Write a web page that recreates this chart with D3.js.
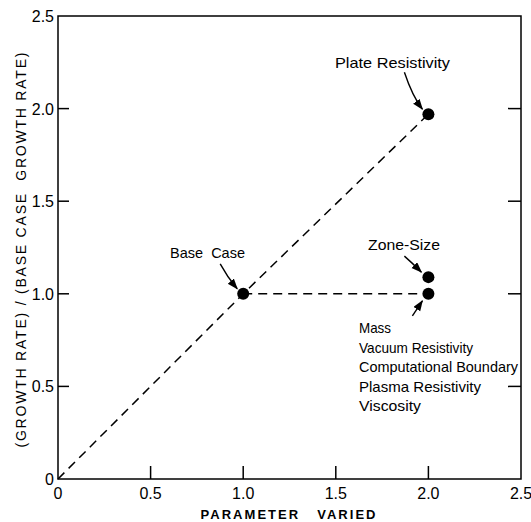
<!DOCTYPE html>
<html>
<head>
<meta charset="utf-8">
<script src="https://cdn.jsdelivr.net/npm/d3@7"></script>
<style>
  body { margin: 0; background: #fff; }
  text { font-family: "Liberation Sans", Arial, sans-serif; fill: #000; white-space: pre; }
</style>
</head>
<body>
<div id="chart"></div>
<script>
// values
const xTicks = [0, 0.5, 1.0, 1.5, 2.0, 2.5];
const yTicks = [0, 0.5, 1.0, 1.5, 2.0, 2.5];
const tickLabels = ["0", "0.5", "1.0", "1.5", "2.0", "2.5"];

const mainLine = [[0, 0], [1.0, 1.0], [2.0, 1.97]];
const flatLine = [[1.0, 1.0], [2.0, 1.0]];

const points = [
  { name: "Base Case", x: 1.0, y: 1.0 },
  { name: "Plate Resistivity", x: 2.0, y: 1.97 },
  { name: "Zone-Size", x: 2.0, y: 1.09 },
  { name: "Mass", x: 2.0, y: 1.0 }
];

const groupLabels = ["Mass", "Vacuum Resistivity", "Computational Boundary", "Plasma Resistivity", "Viscosity"];

const width = 531, height = 522;
const margin = { top: 16, right: 10, bottom: 43, left: 58 };

const svg = d3.select("#chart")
  .append("svg")
  .attr("width", width)
  .attr("height", height);

const x = d3.scaleLinear().domain([0, 2.5]).range([margin.left, width - margin.right]);
const y = d3.scaleLinear().domain([0, 2.5]).range([height - margin.bottom, margin.top]);

// frame
svg.append("rect")
  .attr("x", x(0))
  .attr("y", y(2.5))
  .attr("width", x(2.5) - x(0))
  .attr("height", y(0) - y(2.5))
  .attr("fill", "none")
  .attr("stroke", "#000")
  .attr("stroke-width", 1.5);

// inward ticks
const tickG = svg.append("g").attr("stroke", "#000").attr("stroke-width", 1.5);
tickG.selectAll(".xt")
  .data(xTicks.slice(1, -1))
  .join("line")
  .attr("x1", (d) => x(d)).attr("x2", (d) => x(d))
  .attr("y1", y(0)).attr("y2", y(0) - 13);
tickG.selectAll(".yl")
  .data(yTicks.slice(1, -1))
  .join("line")
  .attr("x1", x(0)).attr("x2", x(0) + 11)
  .attr("y1", (d) => y(d)).attr("y2", (d) => y(d));
tickG.selectAll(".yr")
  .data(yTicks.slice(1, -1))
  .join("line")
  .attr("x1", x(2.5)).attr("x2", x(2.5) - 13)
  .attr("y1", (d) => y(d)).attr("y2", (d) => y(d));

// tick labels
svg.append("g")
  .selectAll("text")
  .data(xTicks)
  .join("text")
  .attr("x", (d) => x(d))
  .attr("y", y(0) + 20)
  .attr("text-anchor", "middle")
  .style("font-size", "16px")
  .text((d, i) => tickLabels[i]);

svg.append("g")
  .selectAll("text")
  .data(yTicks)
  .join("text")
  .attr("x", x(0) - 4)
  .attr("y", (d) => y(d) + 6)
  .attr("text-anchor", "end")
  .style("font-size", "16px")
  .text((d, i) => tickLabels[i]);

// axis titles
svg.append("text")
  .attr("x", 288)
  .attr("y", 519)
  .attr("text-anchor", "middle")
  .attr("textLength", 175)
  .style("font-size", "13px")
  .style("font-weight", "bold")
  .text("PARAMETER   VARIED");

svg.append("text")
  .attr("transform", "translate(26,250) rotate(-90)")
  .attr("text-anchor", "middle")
  .attr("textLength", 395)
  .style("font-size", "14px")
  .text("(GROWTH RATE) / (BASE CASE  GROWTH RATE)");

// dashed lines
const line = d3.line().x((d) => x(d[0])).y((d) => y(d[1]));
svg.append("g")
  .attr("fill", "none")
  .attr("stroke", "#000")
  .attr("stroke-width", 1.5)
  .attr("stroke-dasharray", "9,6")
  .selectAll("path")
  .data([mainLine, flatLine])
  .join("path")
  .attr("d", line);

// markers
svg.append("g")
  .selectAll("circle")
  .data(points)
  .join("circle")
  .attr("cx", (d) => x(d.x))
  .attr("cy", (d) => y(d.y))
  .attr("r", 6)
  .attr("fill", "#000");

// arrowheads
svg.append("defs")
  .append("marker")
  .attr("id", "arrow")
  .attr("markerUnits", "userSpaceOnUse")
  .attr("markerWidth", 14)
  .attr("markerHeight", 14)
  .attr("refX", 10)
  .attr("refY", 4)
  .attr("orient", "auto")
  .append("polygon")
  .attr("points", "0 0, 11 4, 0 8")
  .attr("fill", "#000");

// arrow paths relative to each marker: [start dx, start dy, control dx, control dy, end dx, end dy]
const arrows = [
  { p: points[1], c: [-24, -42, -16, -18, -6, -5] },
  { p: points[0], c: [-23, -30, -16, -17, -6, -5] },
  { p: points[2], c: [-24, -21, -16, -14, -7, -5] },
  { p: points[3], c: [-16, 22, -12, 16, -6, 7] }
];

svg.append("g")
  .attr("fill", "none")
  .attr("stroke", "#000")
  .attr("stroke-width", 1.4)
  .selectAll("path")
  .data(arrows)
  .join("path")
  .attr("d", (d) => {
    const cx = x(d.p.x), cy = y(d.p.y), c = d.c;
    return `M${cx + c[0]},${cy + c[1]} Q${cx + c[2]},${cy + c[3]} ${cx + c[4]},${cy + c[5]}`;
  })
  .attr("marker-end", "url(#arrow)");

// annotations
const annot = svg.append("g").style("font-size", "15px");
annot.append("text").attr("x", 335).attr("y", 68).attr("textLength", 115)
  .attr("lengthAdjust", "spacingAndGlyphs").text("Plate Resistivity");
annot.append("text").attr("x", 170).attr("y", 258).attr("textLength", 75)
  .attr("lengthAdjust", "spacingAndGlyphs").text("Base  Case");
annot.append("text").attr("x", 368).attr("y", 250).attr("textLength", 72)
  .attr("lengthAdjust", "spacingAndGlyphs").text("Zone-Size");

const groupWidths = [32, 114, 159, 122, 62];
annot.selectAll(".grp")
  .data(groupLabels)
  .join("text")
  .attr("x", 359)
  .attr("y", (d, i) => 333 + i * 19.6)
  .attr("textLength", (d, i) => groupWidths[i])
  .attr("lengthAdjust", "spacingAndGlyphs")
  .text((d) => d);
</script>
</body>
</html>
